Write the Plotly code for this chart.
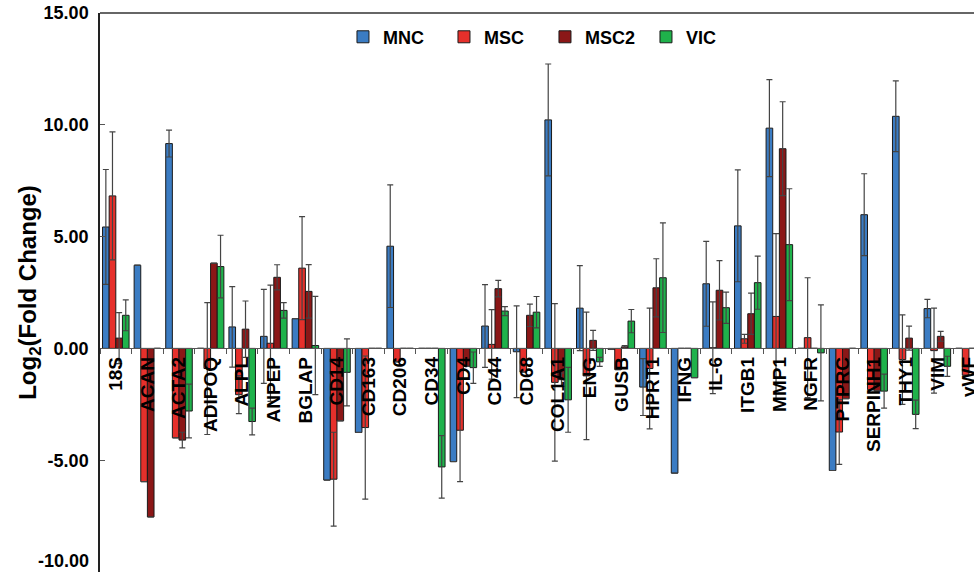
import plotly.graph_objects as go

categories = ["18S", "ACAN", "ACTA2", "ADIPOQ", "ALPL", "ANPEP", "BGLAP", "CD14", "CD163", "CD206",
              "CD34", "CD4", "CD44", "CD68", "COL1A1", "ENG", "GUSB", "HPRT1", "IFNG", "IL-6",
              "ITGB1", "MMP1", "NGFR", "PTPRC", "SERPINH1", "THY1", "VIM", "vWF"]

mnc = [5.43, 3.72, 9.16, 0, 0.96, 0.54, 1.33, -5.89, -3.76, 4.57,
       0, -5.06, 1.0, -0.15, 10.22, 1.8, -0.05, -1.73, -5.58, 2.89,
       5.48, 9.85, 0, -5.46, 5.98, 10.38, 1.78, 0]
mnc_err = [2.57, None, 0.6, None, 1.8, 2.1, None, None, None, 2.74,
           None, None, 1.85, 2.05, 2.5, 1.9, None, 1.27, None, 1.9,
           2.5, 2.17, None, None, 1.83, 1.58, 0.41, None]

msc = [6.82, -5.96, -4.0, -0.9, -2.07, 0.23, 3.59, -5.85, -3.54, -0.6,
       0, -3.66, 0.18, -1.06, -1.52, -1.23, -0.95, -0.9, 0, 0.03,
       0.43, 1.43, 0.48, -3.74, -1.85, -0.5, -0.1, -1.2]
msc_err = [2.86, None, None, 2.95, 0.85, 2.6, 2.3, 2.1, 3.2, None,
           None, 2.3, 1.55, None, 3.52, 2.85, None, 2.7, None, 2.05,
           0.2, 3.7, 2.68, 1.45, None, 2.0, 1.9, None]

msc2 = [0.46, -7.54, -4.1, 3.81, 0.86, 3.18, 2.55, -3.24, 0, 0,
        0, -0.8, 2.67, 1.48, -1.4, 0.36, 0.07, 2.71, 0, 2.6,
        1.55, 8.93, 0, -2.25, -1.9, 0.46, 0.54, 0]
msc2_err = [1.14, None, 0.35, None, 1.26, 0.56, 1.2, None, None, None,
            None, None, 0.37, 0.5, 0.3, 0.45, 0.06, 1.3, None, 1.33,
            0.92, 2.1, None, None, None, 0.54, 0.22, None]

vic = [1.48, 0, -2.8, 3.66, -3.27, 1.7, 0.13, -1.07, 0, 0,
       -5.3, -0.86, 1.67, 1.62, -2.3, -0.6, 1.22, 3.16, -1.31, 1.82,
       2.94, 4.64, -0.2, 0, -1.91, -2.95, -0.8, 0]
vic_err = [0.69, None, 1.2, 1.4, 0.6, 0.35, 2.2, 1.5, None, None,
           1.4, 0.7, 0.2, 0.7, 1.45, 0.2, 0.52, 2.45, None, 0.7,
           1.19, 2.5, 2.15, None, 0.76, 0.64, 0.45, None]

series = [
    ("MNC", mnc, mnc_err, "#3b7cc3"),
    ("MSC", msc, msc_err, "#e6302b"),
    ("MSC2", msc2, msc2_err, "#8b1717"),
    ("VIC", vic, vic_err, "#1fb24b"),
]

y_ticks = [-10, -5, 0, 5, 10, 15]
y_ticktext = ["", "-5.00", "0.00", "5.00", "10.00", "15.00"]
y_bottom_label = "-10.00"

fig = go.Figure()
for name, vals, errs, color in series:
    fig.add_trace(go.Bar(
        x=categories, y=vals, name=name,
        marker=dict(color=color, line=dict(color="#1a1a1a", width=1)),
        error_y=dict(type="data", array=errs, visible=True, color="#444444",
                     thickness=1.2, width=3),
    ))

fig.update_layout(
    width=974, height=573,
    margin=dict(l=100, r=0, t=13, b=1, autoexpand=False),
    paper_bgcolor="white", plot_bgcolor="white",
    barmode="group", bargap=0.16, bargroupgap=0,
    font=dict(family="Arial", color="black"),
    showlegend=True,
    legend=dict(orientation="h", x=0.278, xanchor="left", y=0.99, yanchor="top",
                font=dict(size=18, weight="bold"), entrywidth=56, entrywidthmode="pixels",
                itemwidth=30, bgcolor="rgba(0,0,0,0)", traceorder="normal"),
    xaxis=dict(
        anchor="free", position=0.4,
        range=[-0.5, 27.16],
        showline=True, linecolor="#555555", linewidth=1,
        ticks="outside", ticklen=5, tickcolor="#555555", tickson="boundaries",
        tickangle=-90, tickfont=dict(size=19, weight="bold", color="black"),
        ticklabeloverflow="allow",
        showgrid=False, zeroline=False, automargin=False,
    ),
    yaxis=dict(
        range=[-10, 15], tickvals=y_ticks, ticktext=y_ticktext,
        showline=True, linecolor="#222222", linewidth=1.5,
        ticks="inside", ticklen=5, tickcolor="#555555",
        tickfont=dict(size=18, weight="bold"), ticklabelstandoff=6,
        ticklabeloverflow="allow",
        showgrid=False, zeroline=False, automargin=False,
        title=dict(text="Log<sub>2</sub>(Fold Change)", font=dict(size=24, weight="bold"), standoff=0),
    ),
    shapes=[dict(type="line", xref="paper", yref="paper", x0=0, x1=1, y0=1, y1=1,
                 line=dict(color="#333333", width=1.5))],
    annotations=[dict(text=y_bottom_label, xref="paper", yref="y", x=0, y=y_ticks[0],
                      xanchor="right", yanchor="bottom", xshift=-9, yshift=-1, showarrow=False,
                      font=dict(size=18, weight="bold", color="black"))],
)

fig.write_html("out.html", config={"displayModeBar": False},
               post_script="document.body.style.margin='0';")
